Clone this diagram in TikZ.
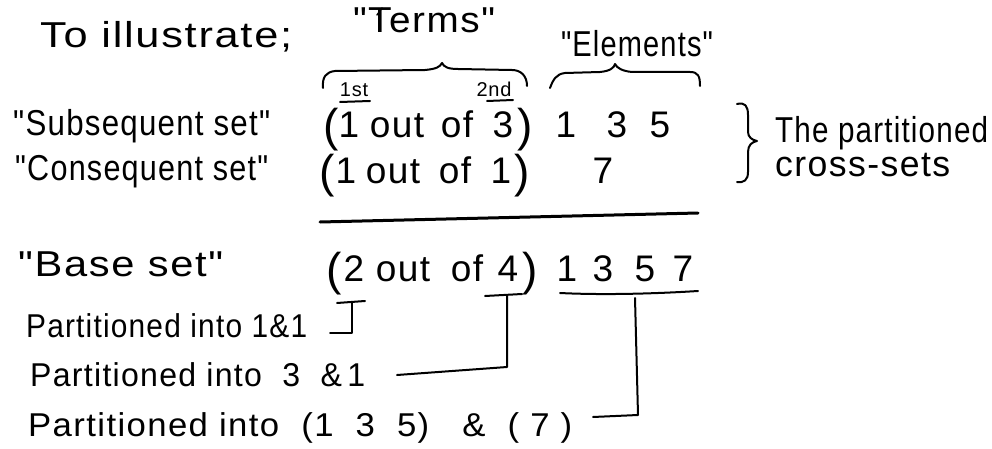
\documentclass[tikz,border=0pt]{standalone}
\usepackage{fontspec}
\usepackage{graphicx}
\setmainfont{Liberation Sans}
\newfontfamily\hwfont{Liberation Sans}[LetterSpace=4]
\newcommand\fitto[2]{\resizebox{#1}{\height}{#2}}
\begin{document}
\begin{tikzpicture}[x=1pt,y=-1pt,
  lab/.style={font={\fontsize{36}{40}\selectfont\hwfont}, inner sep=0pt},
  low/.style={font={\fontsize{33}{36}\selectfont\hwfont}, inner sep=0pt, anchor=base west},
  num/.style={font={\fontsize{37}{40}\selectfont\hwfont}, inner sep=0pt, anchor=base},
  paren/.style={font={\fontsize{46}{50}\selectfont\hwfont}, inner sep=0pt, anchor=base},
  small/.style={font={\fontsize{20}{24}\selectfont\hwfont}, inner sep=0pt, anchor=base},
  ink/.style={line width=2pt, line cap=round, line join=round},
  thickink/.style={line width=3pt, line cap=round}]
\useasboundingbox (0,0) rectangle (992,449);
\fill[white] (0,0) rectangle (992,449);

% headings
\node[lab, anchor=base west] (title) at (40,48) {\fitto{252pt}{To illustrate;}};
\node[lab, anchor=base] (terms) at (424,33) {\fitto{142pt}{"Terms"}};
\node[lab, anchor=base] (elem) at (637,57) {\fitto{152pt}{"Elements"}};
\coordinate (acc1) at (377,15);
\coordinate (acc2) at (382,8);
\draw[ink, line width=1.5pt] (acc1) -- (acc2);

% braces under headings
\draw[ink] (323,88) .. controls (322,77) and (326,72) .. (335,71) -- (425,70)
  .. controls (436,69) and (440,67) .. (442,63)
  .. controls (444,67) and (448,69) .. (458,69) -- (512,70)
  .. controls (521,70) and (527,76) .. (527,86);
\draw[ink] (550,88) .. controls (553,80) and (556,74) .. (565,73) -- (600,72)
  .. controls (610,71) and (614,68) .. (615,64)
  .. controls (617,68) and (622,71) .. (632,72) -- (690,72)
  .. controls (698,72) and (700,76) .. (700,86);

% 1st / 2nd
\node[small] (first) at (354,97) {1st};
\node[small] (second) at (494,97) {2nd};
\coordinate (f1) at (340,102);
\coordinate (f2) at (370,101);
\coordinate (s1) at (487,101);
\coordinate (s2) at (513,100);
\draw[ink] (f1) -- (f2);
\draw[ink] (s1) -- (s2);

% left labels
\node[lab, anchor=base west] (subs) at (13,136) {\fitto{257pt}{"Subsequent set"}};
\node[lab, anchor=base west] (cons) at (15,181) {\fitto{253pt}{"Consequent set"}};
\node[lab, anchor=base west] (base) at (18,276) {\fitto{205pt}{"Base set"}};

% row 1
\node[paren] (a1) at (331,142) {(};
\node[num] (a2) at (349,138) {1};
\node[num] (a3) at (397,138) {out};
\node[num] (a4) at (457,138) {of};
\node[num] (a5) at (503,138) {3};
\node[paren] (a6) at (525,142) {)};
\node[num] (e1) at (566,138) {1};
\node[num] (e2) at (617,138) {3};
\node[num] (e3) at (660,138) {5};

% row 2
\node[paren] (b1) at (327,187) {(};
\node[num] (b2) at (346,183) {1};
\node[num] (b3) at (393,183) {out};
\node[num] (b4) at (455,183) {of};
\node[num] (b5) at (501,183) {1};
\node[paren] (b6) at (522,187) {)};
\node[num] (e4) at (603,183) {7};

% right brace and note
\draw[ink] (737,104) .. controls (745,102) and (748,106) .. (748,115) -- (748,132)
  .. controls (748,137) and (752,140) .. (757,141)
  .. controls (752,142) and (748,145) .. (748,152) -- (748,172)
  .. controls (748,180) and (744,183) .. (737,182);
\node[lab, anchor=base west] (thep) at (775,143) {\fitto{213pt}{The partitioned}};
\node[lab, anchor=base west] (cross) at (775,177) {\fitto{175pt}{cross-sets}};

% sum line
\coordinate (ln1) at (320,222);
\coordinate (ln2) at (698,213);
\draw[thickink] (ln1) -- (ln2);

% row 3
\node[paren] (c1) at (334,285) {(};
\node[num] (c2) at (354,281) {2};
\node[num] (c3) at (403,281) {out};
\node[num] (c4) at (467,281) {of};
\node[num] (c5) at (508,281) {4};
\node[paren] (c6) at (530,285) {)};
\node[num] (d1) at (567,281) {1};
\node[num] (d2) at (603,281) {3};
\node[num] (d3) at (645,281) {5};
\node[num] (d4) at (683,281) {7};

% lower lines
\node[low] (p1) at (26,337) {\fitto{281pt}{Partitioned into 1\&1}};
\node[low] (p2) at (30,386) {\fitto{335pt}{Partitioned into \ 3 \ \&\,1}};
\node[low] (p3) at (28,436) {\fitto{544pt}{Partitioned into \ (1 \ 3 \ 5) \ \ \& \ ( 7 )}};

% connector 1: under "2"
\coordinate (u2l) at (337,303);
\coordinate (u2r) at (365,301);
\coordinate (u2m) at (352,302);
\coordinate (u2e) at (330,333);
\draw[ink] (u2l) -- (u2r);
\draw[ink] (u2m) |- (u2e);

% connector 2: under "4"
\coordinate (u4l) at (485,296);
\coordinate (u4r) at (522,294);
\coordinate (u4m) at (507,295);
\coordinate (u4b) at (507,367);
\coordinate (u4e) at (397,375);
\draw[ink] (u4l) -- (u4r);
\draw[ink] (u4m) -- (u4b) -- (u4e);

% connector 3: under "1 3 5 7"
\coordinate (u7l) at (560,293);
\coordinate (u7r) at (698,291);
\coordinate (u7m) at (635,298);
\coordinate (u7b) at (638,415);
\coordinate (u7e) at (593,417);
\draw[ink] (u7l) .. controls (600,295) and (650,294) .. (u7r);
\draw[ink] (u7m) -- (u7b) -- (u7e);
\end{tikzpicture}
\end{document}
